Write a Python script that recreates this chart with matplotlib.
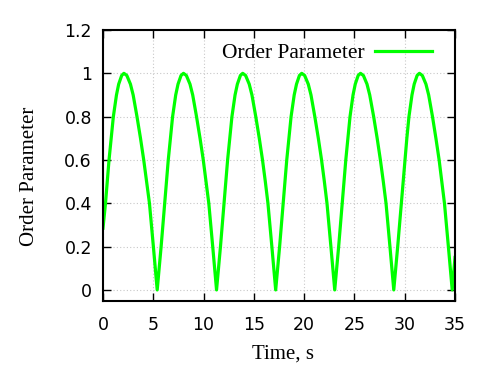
import matplotlib
matplotlib.use("Agg")
import matplotlib.pyplot as plt

# Order parameter vs time
temps = [
    0.00, 0.25, 0.60, 0.81, 1.03, 1.34, 1.56, 1.86, 2.08, 2.37, 2.73, 3.00, 3.38, 3.73, 4.05, 4.33, 4.62, 4.82, 5.01, 5.20,
    5.39, 5.59, 5.78, 5.96, 6.14, 6.49, 6.70, 6.92, 7.23, 7.46, 7.76, 8.00, 8.29, 8.65, 8.92, 9.30, 9.65, 9.97, 10.25, 10.52, 10.72, 10.91, 11.10,
    11.29, 11.49, 11.68, 11.86, 12.04, 12.39, 12.60, 12.82, 13.13, 13.36, 13.66, 13.89, 14.18, 14.54, 14.81, 15.19, 15.54, 15.86, 16.14, 16.40, 16.60, 16.79, 16.98,
    17.17, 17.37, 17.56, 17.74, 17.92, 18.27, 18.48, 18.70, 19.01, 19.24, 19.53, 19.76, 20.05, 20.41, 20.68, 21.06, 21.41, 21.73, 22.01, 22.27, 22.47, 22.66, 22.85,
    23.04, 23.24, 23.43, 23.61, 23.79, 24.14, 24.35, 24.56, 24.86, 25.08, 25.37, 25.60, 25.89, 26.25, 26.52, 26.91, 27.26, 27.58, 27.87, 28.14, 28.34, 28.53, 28.72,
    28.91, 29.11, 29.30, 29.48, 29.66, 30.01, 30.21, 30.42, 30.72, 30.94, 31.23, 31.46, 31.75, 32.11, 32.38, 32.76, 33.10, 33.42, 33.69, 33.95, 34.15, 34.34, 34.53,
    34.72, 34.91, 35.00,
]
ordre = [
    0.285, 0.40, 0.60, 0.70, 0.80, 0.90, 0.95, 0.99, 1.00, 0.99, 0.95, 0.90, 0.80, 0.70, 0.60, 0.50, 0.40, 0.30, 0.20, 0.10,
    0.00, 0.10, 0.20, 0.30, 0.40, 0.60, 0.70, 0.80, 0.90, 0.95, 0.99, 1.00, 0.99, 0.95, 0.90, 0.80, 0.70, 0.60, 0.50, 0.40, 0.30, 0.20, 0.10,
    0.00, 0.10, 0.20, 0.30, 0.40, 0.60, 0.70, 0.80, 0.90, 0.95, 0.99, 1.00, 0.99, 0.95, 0.90, 0.80, 0.70, 0.60, 0.50, 0.40, 0.30, 0.20, 0.10,
    0.00, 0.10, 0.20, 0.30, 0.40, 0.60, 0.70, 0.80, 0.90, 0.95, 0.99, 1.00, 0.99, 0.95, 0.90, 0.80, 0.70, 0.60, 0.50, 0.40, 0.30, 0.20, 0.10,
    0.00, 0.10, 0.20, 0.30, 0.40, 0.60, 0.70, 0.80, 0.90, 0.95, 0.99, 1.00, 0.99, 0.95, 0.90, 0.80, 0.70, 0.60, 0.50, 0.40, 0.30, 0.20, 0.10,
    0.00, 0.10, 0.20, 0.30, 0.40, 0.60, 0.70, 0.80, 0.90, 0.95, 0.99, 1.00, 0.99, 0.95, 0.90, 0.80, 0.70, 0.60, 0.50, 0.40, 0.30, 0.20, 0.10,
    0.00, 0.10, 0.15,
]

x_ticks = [0, 5, 10, 15, 20, 25, 30, 35]
y_ticks = [0, 0.2, 0.4, 0.6, 0.8, 1.0, 1.2]
y_tick_labels = ["0", "0.2", "0.4", "0.6", "0.8", "1", "1.2"]

serif = "Liberation Serif"

fig = plt.figure(figsize=(4.98, 3.69), dpi=100)
ax = fig.add_axes([0.2068, 0.1843, 0.7069, 0.7344])

ax.plot(temps, ordre, color="#00ff00", lw=2.3, label="Order Parameter")

ax.set_xlim(0, 35)
ax.set_ylim(-0.051, 1.2)
ax.set_xticks(x_ticks)
ax.set_yticks(y_ticks)
ax.set_yticklabels(y_tick_labels)

ax.grid(True, color="#c8c8c8", lw=0.8, linestyle=(0, (1, 2)))
ax.tick_params(direction="in", length=6, width=1, top=True, right=True,
               labelsize=12.5, colors="black")
ax.tick_params(axis="y", pad=8)
ax.tick_params(axis="x", pad=11)
for sp in ax.spines.values():
    sp.set_linewidth(1.5)

ax.set_xlabel("Time, s", family=serif, fontsize=15)
ax.set_ylabel("Order Parameter", family=serif, fontsize=15)
ax.xaxis.set_label_coords(0.511, -0.162)
ax.yaxis.set_label_coords(-0.183, 0.46)

ax.legend(loc="center right", bbox_to_anchor=(0.935, 0.915), frameon=False,
          markerfirst=False, handlelength=2.65, handletextpad=0.5,
          borderpad=0, borderaxespad=0, prop={"family": serif, "size": 15.5})

fig.savefig("out.png", dpi=100)
